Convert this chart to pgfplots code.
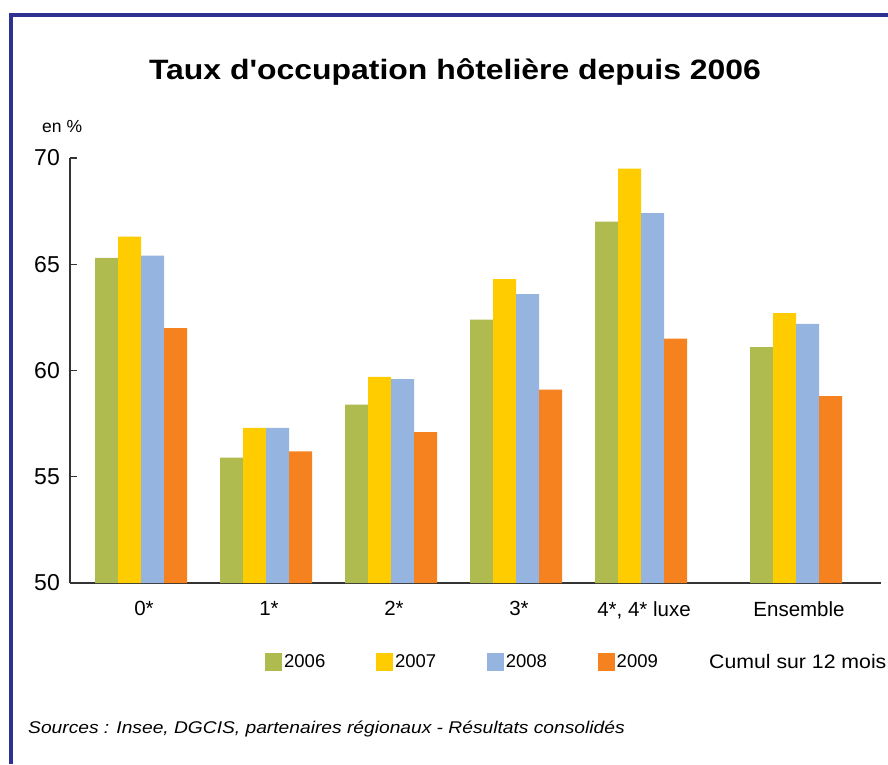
\documentclass[border=0pt]{standalone}
\usepackage{pgfplots}
\pgfplotsset{compat=1.18}
\usepackage{graphicx}
\usepackage{fontspec}
\setmainfont{Liberation Sans}
\definecolor{c06}{RGB}{175,187,78}
\definecolor{c07}{RGB}{255,204,0}
\definecolor{c08}{RGB}{149,181,224}
\definecolor{c09}{RGB}{245,130,31}
\definecolor{frame}{RGB}{46,49,146}
\definecolor{axc}{RGB}{51,51,51}
\begin{document}
\begin{tikzpicture}[x=1pt,y=1pt]
\path[use as bounding box] (0,0) rectangle (888,764);
\draw[frame, line width=4pt, line join=miter] (10.5,0) -- (10.5,749) -- (888,749);
\node[anchor=base, inner sep=0pt, font=\bfseries\fontsize{28}{28}\selectfont] at (455,684) {\scalebox{1.14}[1]{Taux d\textquotesingle occupation hôtelière depuis 2006}};
\node[anchor=base west, inner sep=0pt, font=\fontsize{17.5}{17.5}\selectfont] at (42,631) {en \%};
\begin{axis}[
  at={(70pt,181pt)}, anchor=south west,
  scale only axis, width=811pt, height=425pt,
  xmin=-0.568, xmax=5.92, ymin=50, ymax=70,
  axis x line*=bottom, axis y line*=left,
  axis line style={axc, line width=1.3pt},
  ytick={50,55,60,65,70},
  xtick={0,1,2,3,4,5.24},
  xticklabels={0*,1*,2*,3*,{4*, 4* luxe},Ensemble},
  tick align=inside, major tick length=7pt,
  y tick style={axc, line width=1.3pt},
  x tick style={draw=none},
  /pgf/number format/assume math mode=true,
  yticklabel style={font=\fontsize{23}{23}\selectfont, inner sep=0pt, xshift=-10pt},
  xticklabel style={font=\fontsize{20.5}{20.5}\selectfont, inner sep=0pt, yshift=-11pt, xshift=3pt},
  ybar, bar width=0.184,
  legend columns=4,
  legend style={draw=none, fill=none, at={(0.2404,-0.1855)}, anchor=west,
    font=\fontsize{18.5}{18.5}\selectfont, inner sep=0pt,
    nodes={inner sep=2pt},
    /tikz/every even column/.append style={column sep=48.7pt}},
  legend image code/.code={\fill[#1,draw=none] (0pt,-9pt) rectangle (17pt,9pt);},
]
\addplot[fill=c06, draw=none, bar shift=-0.276] coordinates {(0,65.3) (1,55.9) (2,58.4) (3,62.4) (4,67.0) (5.24,61.1)};
\addplot[fill=c07, draw=none, bar shift=-0.092] coordinates {(0,66.3) (1,57.3) (2,59.7) (3,64.3) (4,69.5) (5.24,62.7)};
\addplot[fill=c08, draw=none, bar shift=0.092] coordinates {(0,65.4) (1,57.3) (2,59.6) (3,63.6) (4,67.4) (5.24,62.2)};
\addplot[fill=c09, draw=none, bar shift=0.276] coordinates {(0,62.0) (1,56.2) (2,57.1) (3,59.1) (4,61.5) (5.24,58.8)};
\legend{2006,2007,2008,2009}
\end{axis}
\node[anchor=base west, inner sep=0pt, font=\fontsize{19.5}{19.5}\selectfont] at (709,96) {\scalebox{1.09}[1]{Cumul sur 12 mois}};
\node[anchor=base west, inner sep=0pt, font=\itshape\fontsize{17}{17}\selectfont] at (28,31) {\scalebox{1.13}[1]{Sources : Insee, DGCIS, partenaires régionaux - Résultats consolidés}};
\end{tikzpicture}
\end{document}
